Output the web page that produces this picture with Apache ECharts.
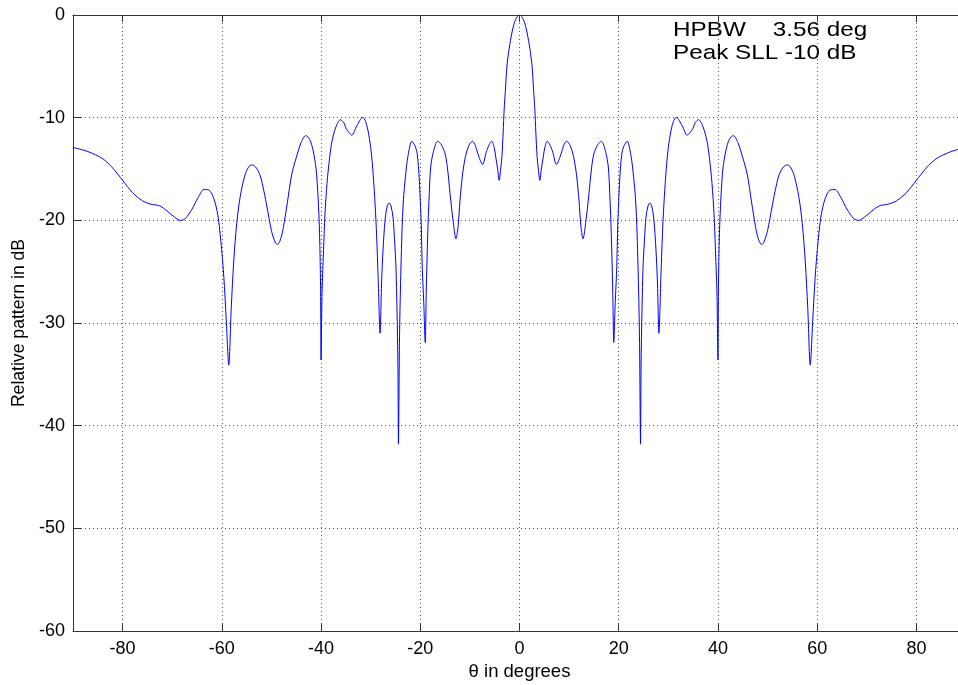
<!DOCTYPE html>
<html>
<head>
<meta charset="utf-8">
<script src="https://cdn.jsdelivr.net/npm/echarts@6/dist/echarts.min.js"></script>
<style>
html,body{margin:0;padding:0;background:#fff;}
#chart{width:958px;height:685px;}
</style>
</head>
<body>
<div id="chart"></div>
<script>
// Angle (deg) of each sample
const thetaDeg = [
-90,-87,-84,-82,-80,-78,-76,-74.5,-72.5,-71,-69.5,-68.4,-67.4,-66,-64.8,-63.6,-62.6,-61.6,-60.8,-60.2,
-59.6,-59.1,-58.6,-58.1,-57.6,-57.0,-56.3,-55.4,-54.6,-54.0,-53.2,-52.3,-51.5,-50.9,-50.0,-49.2,-48.8,-48.2,-47.6,-46.8,
-45.9,-45.0,-44.0,-43.1,-42.3,-41.6,-41.0,-40.6,-40.3,-40.1,-40.0,-39.8,-39.5,-39.2,-38.8,-38.3,-37.8,-37.0,-36.1,-35.4,
-34.9,-33.8,-32.8,-31.6,-31.0,-30.4,-29.9,-29.5,-29.1,-28.8,-28.5,-28.1,-27.8,-27.5,-27.1,-26.7,-26.3,-25.9,-25.5,-25.2,
-24.9,-24.7,-24.5,-24.4,-24.2,-24.05,-23.7,-23.4,-23.0,-22.5,-21.7,-21.0,-20.6,-20.2,-20.0,-19.8,-19.6,-19.3,-19.0,-18.8,
-18.5,-18.2,-17.9,-17.3,-16.5,-15.8,-15.0,-14.5,-14.0,-13.4,-12.8,-12.4,-12.0,-11.5,-10.9,-10.2,-9.5,-8.9,-8.4,-7.45,
-6.6,-5.6,-5.1,-4.8,-4.4,-4.1,-3.8,-3.55,-3.3,-3.1,-2.8,-2.55,-2.1,-1.5,-1.0,-0.5,0,
0.5,1.0,1.5,2.1,2.55,2.8,3.1,3.3,3.55,3.8,4.1,4.4,4.8,5.1,5.6,6.6,
7.45,8.4,8.9,9.5,10.2,10.9,11.5,12.0,12.4,12.8,13.4,14.0,14.5,15.0,15.8,16.5,17.3,17.9,18.2,18.5,
18.8,19.0,19.3,19.6,19.8,20.0,20.2,20.6,21.0,21.7,22.5,23.0,23.4,23.7,24.05,24.2,24.4,24.5,24.7,24.9,
25.2,25.5,25.9,26.3,26.7,27.1,27.5,27.8,28.1,28.5,28.8,29.1,29.5,29.9,30.4,31.0,31.6,32.8,33.8,34.9,
35.4,36.1,37.0,37.8,38.3,38.8,39.2,39.5,39.8,40.0,40.1,40.3,40.6,41.0,41.6,42.3,43.1,44.0,45.0,45.9,
46.8,47.6,48.2,48.8,49.2,50.0,50.9,51.5,52.3,53.2,54.0,54.6,55.4,56.3,57.0,57.6,58.1,58.6,59.1,59.6,
60.2,60.8,61.6,62.6,63.6,64.8,66,67.4,68.4,69.5,71,72.5,74.5,76,78,80,82,84,87,90
];
// Relative pattern (dB) at each angle
const patternDb = [
-12.9,-13.3,-14.0,-14.9,-16.1,-17.3,-18.1,-18.4,-18.6,-19.1,-19.7,-20.0,-19.85,-18.9,-17.8,-17.0,-17.05,-17.9,-19.5,-22.0,
-25.5,-29.8,-34.1,-28.5,-24.0,-20.3,-17.7,-15.7,-14.8,-14.6,-14.8,-15.6,-17.2,-18.7,-21.0,-22.2,-22.35,-21.9,-20.7,-18.3,
-15.5,-13.9,-12.4,-11.75,-12.1,-13.2,-15.0,-17.8,-21.3,-26.5,-33.6,-27.0,-22.9,-19.3,-16.4,-14.0,-12.3,-10.9,-10.2,-10.5,
-11.1,-11.7,-10.8,-9.97,-10.4,-11.6,-13.3,-15.5,-18.5,-21.5,-25.5,-31.0,-26.0,-22.8,-20.0,-18.7,-18.3,-18.6,-19.7,-21.8,
-24.6,-28.5,-34.3,-41.8,-32.0,-27.8,-21.3,-18.0,-15.8,-13.8,-12.3,-12.8,-13.6,-16.0,-18.1,-20.5,-24.6,-28.0,-31.9,-27.0,
-21.3,-17.5,-14.8,-13.2,-12.3,-12.6,-13.5,-15.0,-17.4,-20.0,-21.8,-20.7,-18.1,-15.6,-13.8,-12.7,-12.3,-12.7,-13.5,-14.55,
-13.2,-12.3,-12.9,-13.8,-15.0,-16.1,-15.0,-13.8,-11.5,-9.3,-7.0,-5.07,-3.3,-1.66,-0.7,-0.2,0,
-0.2,-0.7,-1.66,-3.3,-5.07,-7.0,-9.3,-11.5,-13.8,-15.0,-16.1,-15.0,-13.8,-12.9,-12.3,-13.2,
-14.55,-13.5,-12.7,-12.3,-12.7,-13.8,-15.6,-18.1,-20.7,-21.8,-20.0,-17.4,-15.0,-13.5,-12.6,-12.3,-13.2,-14.8,-17.5,-21.3,
-27.0,-31.9,-28.0,-24.6,-20.5,-18.1,-16.0,-13.6,-12.8,-12.3,-13.8,-15.8,-18.0,-21.3,-27.8,-32.0,-41.8,-34.3,-28.5,-24.6,
-21.8,-19.7,-18.6,-18.3,-18.7,-20.0,-22.8,-26.0,-31.0,-25.5,-21.5,-18.5,-15.5,-13.3,-11.6,-10.4,-9.97,-10.8,-11.7,-11.1,
-10.5,-10.2,-10.9,-12.3,-14.0,-16.4,-19.3,-22.9,-27.0,-33.6,-26.5,-21.3,-17.8,-15.0,-13.2,-12.1,-11.75,-12.4,-13.9,-15.5,
-18.3,-20.7,-21.9,-22.35,-22.2,-21.0,-18.7,-17.2,-15.6,-14.8,-14.6,-14.8,-15.7,-17.7,-20.3,-24.0,-28.5,-34.1,-29.8,-25.5,
-22.0,-19.5,-17.9,-17.05,-17.0,-17.8,-18.9,-19.85,-20.0,-19.7,-19.1,-18.6,-18.4,-18.1,-17.3,-16.1,-14.9,-14.0,-13.3,-12.9
];
const xTicks = [-80,-60,-40,-20,0,20,40,60,80];
const annotationLines = ['HPBW    3.56 deg', 'Peak SLL -10 dB'];

const seriesData = thetaDeg.map((t, i) => [t, patternDb[i]]);
const FONT = 'Liberation Sans, Arial, sans-serif';
const gridLine = {show: true, lineStyle: {color: '#555', type: [1, 3], width: 1}};

const chart = echarts.init(document.getElementById('chart'), null, {renderer: 'canvas'});
chart.setOption({
  backgroundColor: '#fff',
  animation: false,
  grid: {left: 73, top: 15, width: 893, height: 616, containLabel: false, outerBoundsMode: 'none'},
  xAxis: [{
    type: 'value', min: -90, max: 90, position: 'bottom',
    name: 'θ in degrees', nameLocation: 'middle', nameGap: 27,
    nameTextStyle: {fontFamily: FONT, fontSize: 18.5, color: '#000'},
    axisLine: {show: true, onZero: false, lineStyle: {color: '#333', width: 1}},
    axisTick: {show: true, inside: true, length: 8, customValues: xTicks, lineStyle: {color: '#333'}},
    axisLabel: {show: true, customValues: xTicks, margin: 9, fontFamily: FONT, fontSize: 18, color: '#000'},
    splitLine: gridLine
  }, {
    type: 'value', min: -90, max: 90, position: 'top',
    axisLine: {show: true, onZero: false, lineStyle: {color: '#333', width: 1}},
    axisTick: {show: true, inside: true, length: 7, customValues: xTicks, lineStyle: {color: '#333'}},
    axisLabel: {show: false},
    splitLine: {show: false}
  }],
  yAxis: [{
    type: 'value', min: -60, max: 0, interval: 10, position: 'left',
    name: 'Relative pattern in dB', nameLocation: 'middle', nameGap: 44,
    nameTextStyle: {fontFamily: FONT, fontSize: 17.6, color: '#000'},
    axisLine: {show: true, onZero: false, lineStyle: {color: '#333', width: 1}},
    axisTick: {show: true, inside: true, length: 8, lineStyle: {color: '#333'}},
    axisLabel: {show: true, margin: 8, fontFamily: FONT, fontSize: 18, color: '#000'},
    splitLine: gridLine
  }],
  graphic: [{
    type: 'text', x: 673, y: 19, scaleX: 1.156, silent: true,
    style: {text: annotationLines.join('\n'), font: '21px ' + FONT, fill: '#000', lineHeight: 23}
  }],
  series: [{
    type: 'line', xAxisIndex: 0, yAxisIndex: 0, data: seriesData,
    showSymbol: false, smooth: 0.3, clip: true,
    lineStyle: {color: '#0000ff', width: 1}
  }]
});
</script>
</body>
</html>
